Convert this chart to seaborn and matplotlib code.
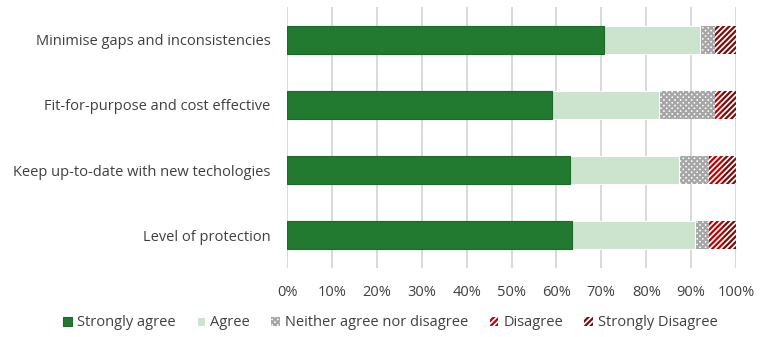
import matplotlib
matplotlib.use("Agg")
import matplotlib.pyplot as plt
from matplotlib.patches import Patch
from matplotlib.ticker import PercentFormatter
import seaborn as sns
import pandas as pd
import numpy as np

categories = ["Minimise gaps and inconsistencies",
              "Fit-for-purpose and cost effective",
              "Keep up-to-date with new techologies",
              "Level of protection"]
series = ["Strongly agree", "Agree", "Neither agree nor disagree", "Disagree", "Strongly Disagree"]
strongly_agree = [70.7, 59.0, 63.1, 63.5]
agree = [21.3, 23.9, 24.1, 27.3]
neither = [3.3, 12.4, 6.8, 3.2]
disagree = [0.0, 1.5, 3.1, 3.1]
strongly_disagree = [4.7, 3.2, 2.9, 2.9]
xticks = [0, 10, 20, 30, 40, 50, 60, 70, 80, 90, 100]

values = [strongly_agree, agree, neither, disagree, strongly_disagree]
styles = [
    dict(face="#217A2F", edge="#1B6A27", hatch=None, lw=0.8),
    dict(face="#CCE3CD", edge="#FFFFFF", hatch=None, lw=0.8),
    dict(face="#FFFFFF", edge="#A6A6A6", hatch="xxxxxx", lw=0),
    dict(face="#FFFFFF", edge="#C00000", hatch="//////", lw=0),
    dict(face="#FFFFFF", edge="#7B0C0C", hatch="//////", lw=0),
]

sns.set_theme(style="white")
plt.rcParams["font.family"] = ["Open Sans", "DejaVu Sans"]
plt.rcParams["hatch.linewidth"] = 1.6

fig = plt.figure(figsize=(7.7, 3.37), dpi=100)
ax = fig.add_axes([287/770, 1-268/337, (736-287)/770, (268-7)/337])

cum = np.cumsum(np.array(values), axis=0)
text_color = "#404040"

for i in range(len(series) - 1, -1, -1):
    df = pd.DataFrame({"category": categories, "value": cum[i]})
    n_before = len(ax.patches)
    sns.barplot(data=df, x="value", y="category", orient="h", ax=ax,
                width=0.43, color=styles[i]["face"], saturation=1, zorder=2)
    st = styles[i]
    for p in ax.patches[n_before:]:
        p.set_facecolor(st["face"])
        p.set_edgecolor(st["edge"])
        p.set_linewidth(st["lw"])
        if st["hatch"]:
            p.set_hatch(st["hatch"])

ax.set_xlim(0, 100)
ax.set_ylim(3.5, -0.5)
ax.set_xticks(xticks)
ax.xaxis.set_major_formatter(PercentFormatter(decimals=0))
ax.set_xlabel("")
ax.set_ylabel("")
ax.grid(axis="x", color="#D9D9D9", linewidth=1.4, zorder=0)
ax.grid(axis="y", visible=False)
ax.set_axisbelow(True)
for s in ax.spines.values():
    s.set_visible(False)
ax.tick_params(axis="both", length=0, labelsize=10.5, colors=text_color)
ax.tick_params(axis="y", pad=12)
ax.tick_params(axis="x", pad=12)

handles = []
for i, name in enumerate(series):
    st = styles[i]
    handles.append(Patch(facecolor=st["face"], edgecolor=st["edge"],
                         hatch=st["hatch"], linewidth=st["lw"], label=name))
leg = fig.legend(handles=handles, loc="center", bbox_to_anchor=(0.507, 0.042),
                 ncol=5, frameon=False, fontsize=10.5, handlelength=0.6,
                 handleheight=0.6, handletextpad=0.35, columnspacing=1.45)
for t in leg.get_texts():
    t.set_color(text_color)

fig.savefig("out.png", dpi=100)
